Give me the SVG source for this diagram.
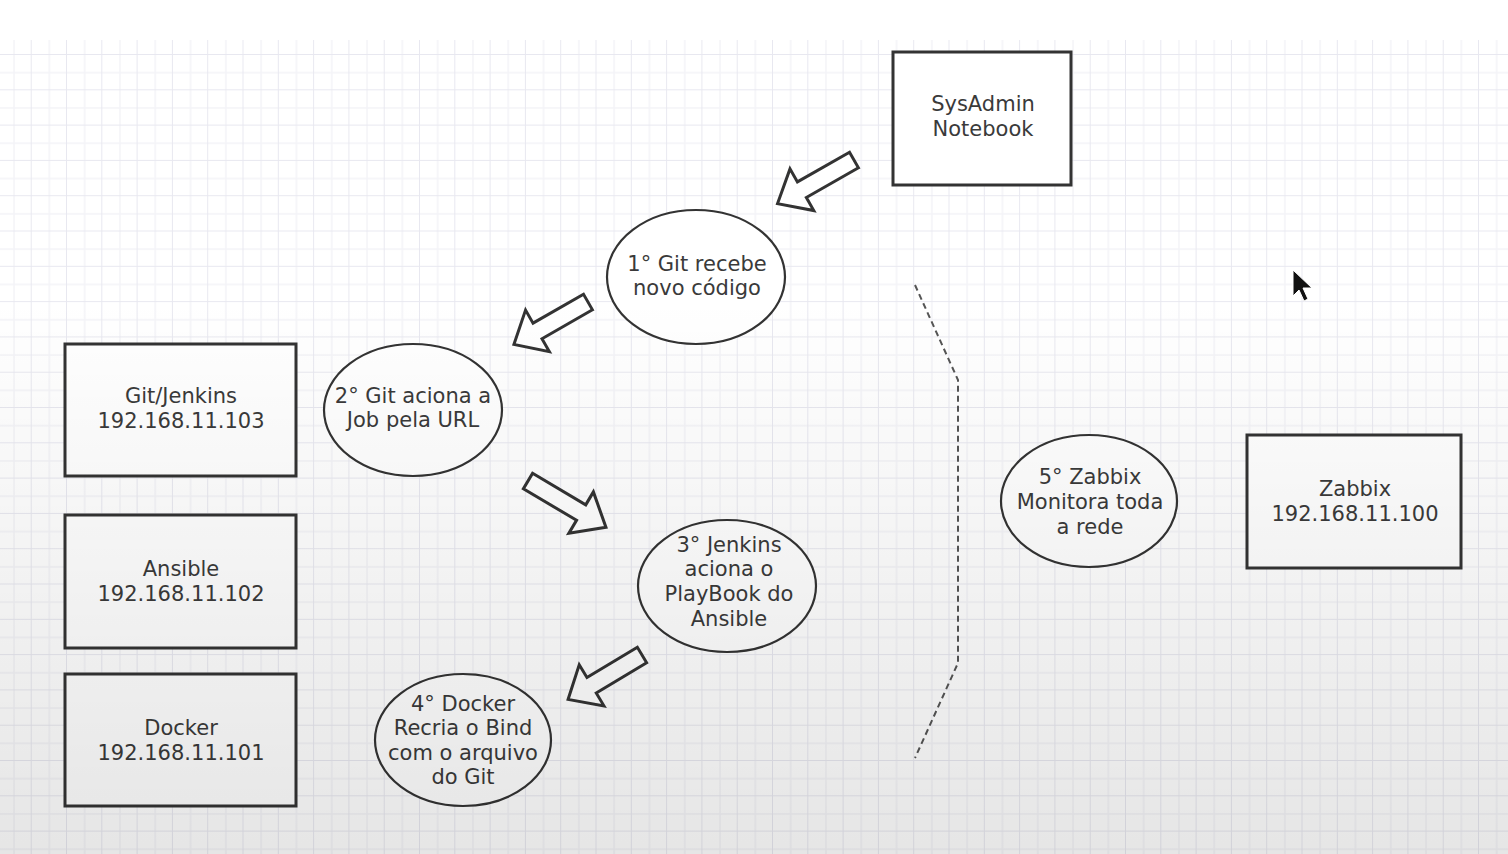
<svg xmlns="http://www.w3.org/2000/svg" width="1508" height="854" viewBox="0 0 1508 854">
  <style>
    .box { fill: #ffffff; stroke: #333333; stroke-width: 3; }
    .ell { fill: #ffffff; stroke: #333333; stroke-width: 2.2; }
    .lbl { font-family: "DejaVu Sans", "Liberation Sans", sans-serif; font-size: 21px; fill: #3a3a3a; text-anchor: middle; }
    .barrow { fill: #ffffff; stroke: #333333; stroke-width: 3; stroke-linejoin: miter; }
    .dash { fill: none; stroke: #555555; stroke-width: 2; stroke-dasharray: 6 4; }
  </style>
  <defs>
    <pattern id="grid" x="-3.6" y="19.7" width="35.3" height="35.3" patternUnits="userSpaceOnUse">
      <path d="M17.65 0 V35.3 M0 17.65 H35.3" stroke="#f4f4f8" stroke-width="1.5" fill="none"/>
      <path d="M35.3 0 V35.3 M0 35.3 H35.3" stroke="#e8e8f0" stroke-width="2" fill="none"/>
    </pattern>
    <linearGradient id="shade" x1="0" y1="0" x2="0" y2="1">
      <stop offset="0" stop-color="#000000" stop-opacity="0"/>
      <stop offset="0.35" stop-color="#000000" stop-opacity="0"/>
      <stop offset="1" stop-color="#000000" stop-opacity="0.1"/>
    </linearGradient>
    <path id="blk" d="M0,-9 H60 V-24 L88,0 L60,24 V9 H0 Z"/>
  </defs>

  <rect x="0" y="0" width="1508" height="854" fill="#ffffff"/>
  <rect x="0" y="40" width="1508" height="814" fill="url(#grid)"/>

  <g id="connectors">
    <use href="#blk" class="barrow" transform="translate(854,160) rotate(150.3)"/>
    <use href="#blk" class="barrow" transform="translate(588,302) rotate(150.2) scale(0.97,1)"/>
    <use href="#blk" class="barrow" transform="translate(528,481) rotate(30.7) scale(1.03,1)"/>
    <use href="#blk" class="barrow" transform="translate(642,655) rotate(149) scale(0.98,1)"/>
    <path class="dash" d="M915,285 L958,380 L958,663 L915,758"/>
  </g>

  <g id="sysadmin">
    <rect class="box" x="893" y="52" width="178" height="133"/>
    <text class="lbl" x="983" y="111">SysAdmin</text>
    <text class="lbl" x="983" y="136">Notebook</text>
  </g>

  <g id="gitjenkins">
    <rect class="box" x="65" y="344" width="231" height="132"/>
    <text class="lbl" x="181" y="403">Git/Jenkins</text>
    <text class="lbl" x="181" y="428">192.168.11.103</text>
  </g>

  <g id="ansible">
    <rect class="box" x="65" y="515" width="231" height="133"/>
    <text class="lbl" x="181" y="576">Ansible</text>
    <text class="lbl" x="181" y="601">192.168.11.102</text>
  </g>

  <g id="docker">
    <rect class="box" x="65" y="674" width="231" height="132"/>
    <text class="lbl" x="181" y="735">Docker</text>
    <text class="lbl" x="181" y="760">192.168.11.101</text>
  </g>

  <g id="zabbix">
    <rect class="box" x="1247" y="435" width="214" height="133"/>
    <text class="lbl" x="1355" y="496">Zabbix</text>
    <text class="lbl" x="1355" y="521">192.168.11.100</text>
  </g>

  <g id="step1">
    <ellipse class="ell" cx="696" cy="277" rx="89" ry="67"/>
    <text class="lbl" x="697" y="271">1° Git recebe</text>
    <text class="lbl" x="697" y="295">novo código</text>
  </g>

  <g id="step2">
    <ellipse class="ell" cx="413" cy="410" rx="89" ry="66"/>
    <text class="lbl" x="413" y="403">2° Git aciona a</text>
    <text class="lbl" x="413" y="427">Job pela URL</text>
  </g>

  <g id="step3">
    <ellipse class="ell" cx="727" cy="586" rx="89" ry="66"/>
    <text class="lbl" x="729" y="552">3° Jenkins</text>
    <text class="lbl" x="729" y="576">aciona o</text>
    <text class="lbl" x="729" y="601">PlayBook do</text>
    <text class="lbl" x="729" y="626">Ansible</text>
  </g>

  <g id="step4">
    <ellipse class="ell" cx="463" cy="740" rx="88" ry="66"/>
    <text class="lbl" x="463" y="711">4° Docker</text>
    <text class="lbl" x="463" y="735">Recria o Bind</text>
    <text class="lbl" x="463" y="760">com o arquivo</text>
    <text class="lbl" x="463" y="784">do Git</text>
  </g>

  <g id="step5">
    <ellipse class="ell" cx="1089" cy="501" rx="88" ry="66"/>
    <text class="lbl" x="1090" y="484">5° Zabbix</text>
    <text class="lbl" x="1090" y="509">Monitora toda</text>
    <text class="lbl" x="1090" y="534">a rede</text>
  </g>

  <path d="M1293,270 L1293,296 L1299,290 L1304,301 L1308,299 L1303,288 L1312,288 Z" fill="#111111" stroke="#ffffff" stroke-width="1"/>

  <rect x="0" y="0" width="1508" height="854" fill="url(#shade)" pointer-events="none"/>
</svg>
